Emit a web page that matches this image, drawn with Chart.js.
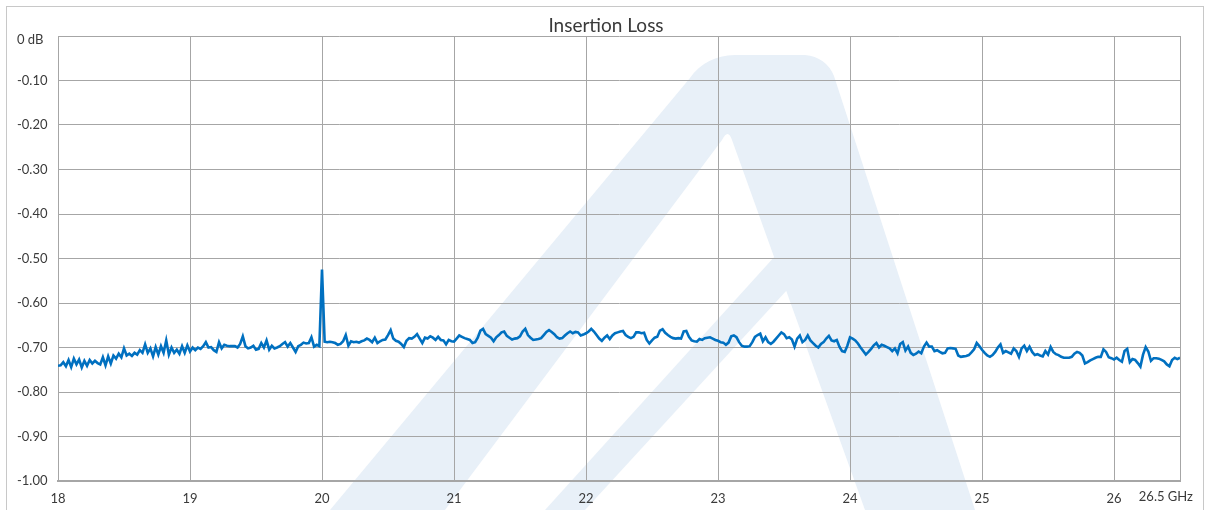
<!DOCTYPE html>
<html><head><meta charset="utf-8">
<script src="https://cdn.jsdelivr.net/npm/chart.js@4/dist/chart.umd.min.js"></script>
<style>html,body{margin:0;padding:0;background:#fff}#wrap{width:1207px;height:510px;position:relative}</style>
</head><body><div id="wrap"><canvas id="c" width="1207" height="510"></canvas></div>
<script>
// Frequency grid (GHz)
const freqStart = 18, freqStep = 0.02;
// Insertion loss (dB), 0.02 GHz apart
const loss18 = [-0.741,-0.740,-0.733,-0.742,-0.728,-0.744,-0.725,-0.738,-0.727,-0.745,
-0.730,-0.741,-0.728,-0.736,-0.730,-0.735,-0.738,-0.722,-0.740,-0.720,
-0.736,-0.718,-0.725,-0.714,-0.722,-0.702,-0.718,-0.714,-0.719,-0.712,
-0.716,-0.706,-0.712,-0.693,-0.712,-0.702,-0.720,-0.699,-0.716,-0.697,
-0.712,-0.684,-0.716,-0.700,-0.712,-0.705,-0.714,-0.697,-0.712,-0.695];
const loss19 = [-0.709,-0.700,-0.706,-0.700,-0.703,-0.697,-0.688,-0.700,-0.699,-0.706,
-0.710,-0.688,-0.702,-0.694,-0.696,-0.697,-0.697,-0.697,-0.700,-0.692,
-0.675,-0.697,-0.702,-0.700,-0.696,-0.705,-0.703,-0.690,-0.700,-0.684,
-0.705,-0.696,-0.702,-0.700,-0.697,-0.692,-0.688,-0.698,-0.690,-0.700,
-0.710,-0.697,-0.694,-0.689,-0.691,-0.690,-0.677,-0.698,-0.694,-0.697];
const loss20 = [-0.525,-0.687,-0.688,-0.687,-0.688,-0.690,-0.694,-0.692,-0.686,-0.672,
-0.696,-0.686,-0.688,-0.687,-0.689,-0.686,-0.684,-0.680,-0.683,-0.688,
-0.678,-0.690,-0.686,-0.683,-0.682,-0.672,-0.661,-0.680,-0.685,-0.687,
-0.692,-0.699,-0.685,-0.679,-0.680,-0.676,-0.670,-0.680,-0.690,-0.678,
-0.680,-0.675,-0.678,-0.683,-0.676,-0.683,-0.684,-0.693,-0.683,-0.686];
const loss21 = [-0.687,-0.680,-0.673,-0.676,-0.679,-0.681,-0.683,-0.690,-0.688,-0.678,
-0.662,-0.658,-0.670,-0.674,-0.678,-0.686,-0.677,-0.672,-0.666,-0.664,
-0.674,-0.678,-0.682,-0.680,-0.679,-0.675,-0.664,-0.658,-0.672,-0.678,
-0.683,-0.682,-0.681,-0.679,-0.672,-0.665,-0.661,-0.665,-0.670,-0.677,
-0.680,-0.679,-0.673,-0.668,-0.664,-0.668,-0.665,-0.666,-0.673,-0.671];
const loss22 = [-0.668,-0.664,-0.658,-0.664,-0.672,-0.680,-0.685,-0.678,-0.673,-0.681,
-0.673,-0.668,-0.666,-0.664,-0.663,-0.672,-0.676,-0.679,-0.676,-0.666,
-0.666,-0.668,-0.667,-0.683,-0.691,-0.684,-0.678,-0.676,-0.662,-0.659,
-0.667,-0.672,-0.676,-0.679,-0.680,-0.679,-0.680,-0.664,-0.663,-0.676,
-0.684,-0.686,-0.687,-0.681,-0.683,-0.679,-0.678,-0.677,-0.680,-0.683];
const loss23 = [-0.685,-0.688,-0.689,-0.694,-0.689,-0.675,-0.673,-0.677,-0.688,-0.696,
-0.698,-0.698,-0.697,-0.688,-0.676,-0.672,-0.669,-0.686,-0.677,-0.688,
-0.692,-0.687,-0.680,-0.673,-0.666,-0.670,-0.679,-0.677,-0.682,-0.698,
-0.680,-0.673,-0.688,-0.683,-0.673,-0.684,-0.690,-0.696,-0.700,-0.692,
-0.688,-0.680,-0.674,-0.684,-0.686,-0.683,-0.698,-0.708,-0.710,-0.696];
const loss24 = [-0.677,-0.680,-0.684,-0.691,-0.700,-0.708,-0.716,-0.710,-0.703,-0.695,
-0.690,-0.700,-0.694,-0.696,-0.699,-0.702,-0.708,-0.702,-0.713,-0.692,
-0.688,-0.707,-0.698,-0.712,-0.717,-0.714,-0.709,-0.713,-0.698,-0.689,
-0.698,-0.698,-0.708,-0.706,-0.710,-0.713,-0.712,-0.702,-0.701,-0.702,
-0.703,-0.718,-0.721,-0.720,-0.719,-0.717,-0.711,-0.704,-0.690,-0.697];
const loss25 = [-0.705,-0.712,-0.718,-0.721,-0.717,-0.710,-0.700,-0.693,-0.712,-0.708,
-0.711,-0.714,-0.702,-0.708,-0.721,-0.702,-0.696,-0.708,-0.698,-0.710,
-0.717,-0.715,-0.718,-0.720,-0.708,-0.716,-0.699,-0.710,-0.715,-0.717,
-0.721,-0.723,-0.723,-0.723,-0.721,-0.714,-0.710,-0.712,-0.718,-0.736,
-0.733,-0.729,-0.726,-0.723,-0.721,-0.721,-0.704,-0.710,-0.722,-0.724];
const loss26 = [-0.727,-0.723,-0.728,-0.732,-0.708,-0.703,-0.733,-0.726,-0.728,-0.735,
-0.743,-0.716,-0.699,-0.709,-0.730,-0.724,-0.724,-0.725,-0.728,-0.731,
-0.738,-0.742,-0.728,-0.723,-0.726,-0.723];

const xTickValues = [18, 19, 20, 21, 22, 23, 24, 25, 26, 26.5];
const xTickLabels = ['18', '19', '20', '21', '22', '23', '24', '25', '26', '26.5 GHz'];
const yTickValues = [0, -0.1, -0.2, -0.3, -0.4, -0.5, -0.6, -0.7, -0.8, -0.9, -1.0];
const yTickLabels = ['0 dB', '-0.10', '-0.20', '-0.30', '-0.40', '-0.50', '-0.60', '-0.70', '-0.80', '-0.90', '-1.00'];
const chartTitle = 'Insertion Loss';

const lossAll = [].concat(loss18, loss19, loss20, loss21, loss22, loss23, loss24, loss25, loss26);
const points = lossAll.map((v, i) => ({ x: Math.round((freqStart + i * freqStep) * 100) / 100, y: v }));

const FONT = 'Lato, "Open Sans", sans-serif';
const TEXT = '#3a3a3a';
const GRID = '#a6a6a6';

const decor = {
  id: 'decor',
  beforeDraw(chart) {
    const ctx = chart.ctx;
    ctx.save();
    ctx.fillStyle = '#fff';
    ctx.fillRect(0, 0, chart.width, chart.height);
    // faint background logo (watermark)
    ctx.fillStyle = '#e8f0f8';
    ctx.beginPath();
    ctx.moveTo(330, 510);
    ctx.lineTo(690, 78);
    ctx.quadraticCurveTo(705, 56, 735, 55);
    ctx.lineTo(805, 55);
    ctx.quadraticCurveTo(826, 57, 834, 76);
    ctx.lineTo(975, 510);
    ctx.lineTo(865, 510);
    ctx.lineTo(732, 140);
    ctx.quadraticCurveTo(728, 128, 722, 140);
    ctx.lineTo(445, 510);
    ctx.closePath();
    ctx.fill();
    ctx.beginPath();
    ctx.moveTo(545, 510);
    ctx.lineTo(776, 255);
    ctx.lineTo(787, 290);
    ctx.lineTo(585, 510);
    ctx.closePath();
    ctx.fill();
    ctx.strokeStyle = '#c8c8c8';
    ctx.lineWidth = 1;
    ctx.strokeRect(6.5, 6.5, 1197, 560);
    ctx.restore();
  },
  afterDraw(chart) {
    const ctx = chart.ctx;
    const xs = chart.scales.x, ys = chart.scales.y;
    ctx.save();
    ctx.fillStyle = TEXT;
    ctx.font = '19px ' + FONT;
    ctx.textAlign = 'center';
    ctx.textBaseline = 'alphabetic';
    ctx.fillText(chartTitle, 606, 32);
    ctx.font = '13px ' + FONT;
    ctx.textBaseline = 'middle';
    xTickValues.forEach((v, i) => {
      const px = xs.getPixelForValue(v);
      if (i === xTickValues.length - 1) {
        ctx.textAlign = 'right';
        ctx.fillText(xTickLabels[i], px + 13, 497);
      } else {
        ctx.textAlign = 'center';
        ctx.fillText(xTickLabels[i], px, 499);
      }
    });
    ctx.textAlign = 'left';
    yTickValues.forEach((v, i) => {
      const py = ys.getPixelForValue(v);
      ctx.fillText(yTickLabels[i], 17, i === 0 ? py + 4 : py);
    });
    ctx.restore();
  }
};

new Chart(document.getElementById('c'), {
  type: 'line',
  data: {
    datasets: [{
      data: points,
      borderColor: '#0070c0',
      borderWidth: 2.6,
      pointRadius: 0,
      tension: 0,
      fill: false
    }]
  },
  options: {
    responsive: false,
    animation: false,
    events: [],
    layout: { padding: { top: 36, left: 17, right: 27, bottom: 0 } },
    plugins: { legend: { display: false }, title: { display: false }, tooltip: { enabled: false } },
    scales: {
      x: {
        type: 'linear',
        min: 18,
        max: 26.5,
        afterBuildTicks(scale) { scale.ticks = xTickValues.map(v => ({ value: v })); },
        afterFit(scale) { scale.height = 29; scale.paddingLeft = 0; scale.paddingRight = 0; },
        ticks: { display: false },
        grid: { color: GRID, lineWidth: 1, drawTicks: false },
        border: { color: GRID, width: 2 }
      },
      y: {
        min: -1,
        max: 0,
        afterBuildTicks(scale) { scale.ticks = yTickValues.map(v => ({ value: v })); },
        afterFit(scale) { scale.width = 41; scale.paddingTop = 0; scale.paddingBottom = 0; },
        ticks: { display: false },
        grid: { color: GRID, lineWidth: 1, drawTicks: false },
        border: { color: GRID, width: 1 }
      }
    }
  },
  plugins: [decor]
});
</script>
</body></html>
